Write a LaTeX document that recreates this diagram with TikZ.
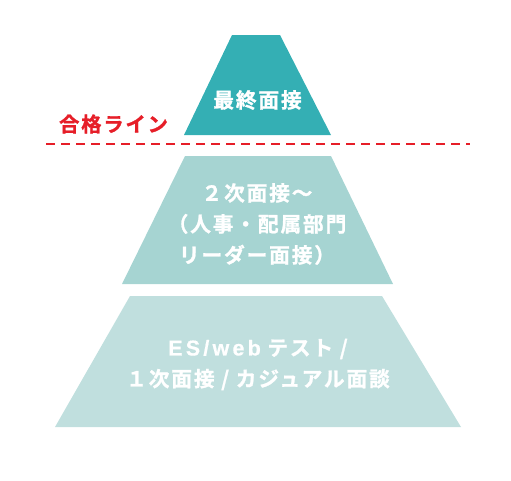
\documentclass[tikz,border=0pt]{standalone}
\usepackage{fontspec}
\newfontfamily\jp[LetterSpace=9,FakeBold=1.2]{Noto Sans CJK JP}[BoldFont={Noto Sans CJK JP Bold}]
\newfontfamily\lat[LetterSpace=15,FakeBold=0.6]{Liberation Sans}[BoldFont={Liberation Sans Bold}]
\definecolor{tealA}{RGB}{52,175,180}
\definecolor{tealB}{RGB}{166,212,210}
\definecolor{tealC}{RGB}{192,223,222}
\definecolor{redline}{RGB}{230,30,40}
\begin{document}
\begin{tikzpicture}[x=1pt,y=-1pt,
  lbl/.style={text=white,font=\jp\bfseries\fontsize{20.7}{31}\selectfont,align=center,inner sep=0pt},
  redlbl/.style={text=redline,font=\jp\bfseries\fontsize{20.3}{22}\selectfont,inner sep=0pt},
  passline/.style={draw=redline,line width=2.7pt,dash pattern=on 9pt off 6pt}]
\useasboundingbox (0,0) rectangle (511,480);
\fill[tealA] (232,35) -- (280,35) -- (331,135) -- (184,135) -- cycle;
\fill[tealB] (185,156) -- (331,156) -- (393,284) -- (122,284) -- cycle;
\fill[tealC] (130,296) -- (382,296) -- (461,427) -- (55,427) -- cycle;
\node[lbl] (top) at (257.5,100) {最終面接};
\node[lbl] (mid) at (257,224) {２次面接～\\（人事・配属部門\\リーダー面接）};
\node[lbl] (bot) at (258,364.5) {{\lat\bfseries\fontsize{21.5}{31}\selectfont ES/web} テスト /\\１次面接 / カジュアル面談};
\node[redlbl] (pass) at (113.5,124) {合格ライン};
\coordinate (dl) at (46,144);
\coordinate (dr) at (470,144);
\draw[passline] (dl) -- (dr);
\end{tikzpicture}
\end{document}
